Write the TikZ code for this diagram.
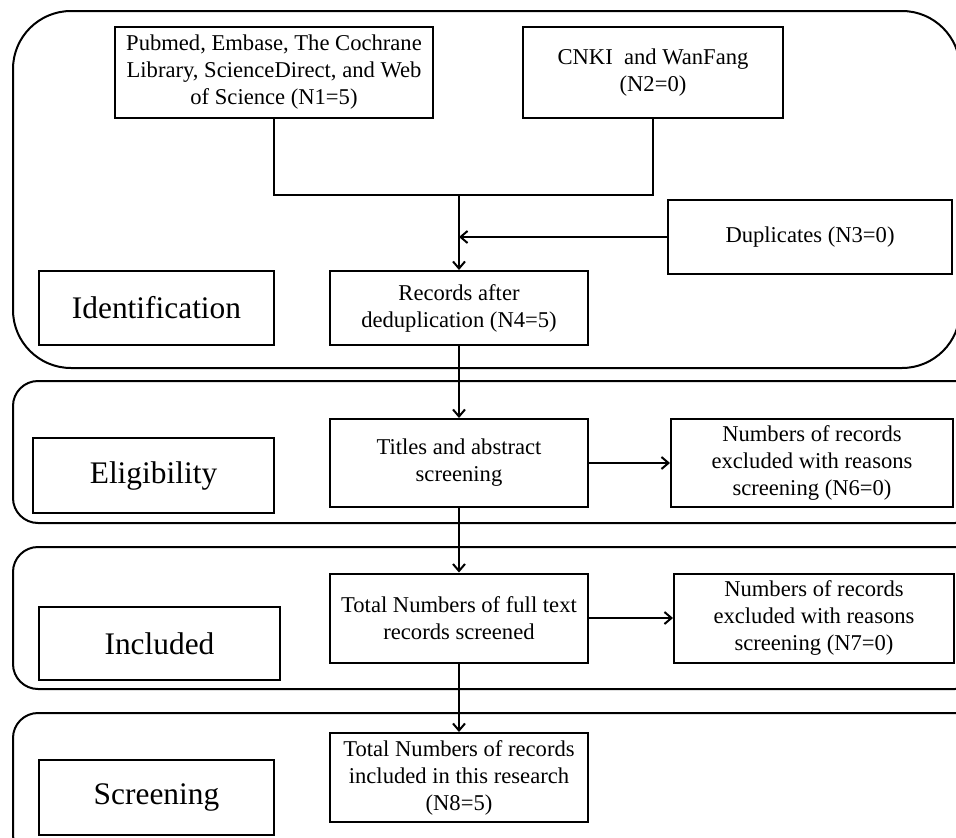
\documentclass[tikz,border=0pt]{standalone}
\usepackage{fontspec}
\setmainfont{Liberation Serif}
\usetikzlibrary{arrows.meta}
\tikzset{
  frame/.style={draw, line width=2pt, rounded corners=#1},
  box/.style={draw, line width=2pt, align=center, inner sep=2pt,
    font=\fontsize{22.6}{27}\selectfont},
  stage/.style={draw, line width=2pt, align=center, inner sep=2pt,
    font=\fontsize{31.4}{36}\selectfont},
  conn/.style={line width=2pt},
  arr/.style={line width=2pt, -{Straight Barb[length=7pt,width=12pt,line width=2pt]}}
}
\begin{document}
\begin{tikzpicture}[x=1pt,y=-1pt]
\useasboundingbox (0,0) rectangle (956,838);
\clip (0,0) rectangle (956,838);
% stage frames
\draw[frame=58] (13,11) rectangle (960,368);
\draw[frame=25] (13,381) rectangle (980,523);
\draw[frame=25] (13,547) rectangle (980,689);
\draw[frame=25] (13,713) rectangle (980,860);
% identification
\node[box, minimum width=318pt, minimum height=91pt] (n1) at (274,72.5)
  {Pubmed, Embase, The Cochrane\\Library, ScienceDirect, and Web\\of Science (N1=5)};
\node[box, minimum width=260pt, minimum height=91pt] (n2) at (653,72.5)
  {CNKI\ \ and WanFang\\(N2=0)};
\node[box, minimum width=284pt, minimum height=74pt] (n3) at (810,237)
  {Duplicates (N3=0)};
\node[stage, minimum width=235pt, minimum height=74pt] (s1) at (156.5,308)
  {Identification};
\node[box, minimum width=258pt, minimum height=74pt] (n4) at (459,308)
  {Records after\\deduplication (N4=5)};
% eligibility
\node[stage, minimum width=241pt, minimum height=75pt] (s2) at (153.5,475.5)
  {Eligibility};
\node[box, minimum width=258pt, minimum height=88pt] (n5) at (459,463)
  {Titles and abstract\\screening};
\node[box, minimum width=282pt, minimum height=88pt] (n6) at (812,463)
  {Numbers of records\\excluded with reasons\\screening (N6=0)};
% included
\node[stage, minimum width=241pt, minimum height=73pt] (s3) at (159.5,643.5)
  {Included};
\node[box, minimum width=258pt, minimum height=89pt] (n7a) at (459,618)
  {Total Numbers of full text\\records screened};
\node[box, minimum width=280pt, minimum height=89pt] (n7) at (814,618)
  {Numbers of records\\excluded with reasons\\screening (N7=0)};
% screening
\node[stage, minimum width=235pt, minimum height=75pt] (s4) at (156.5,797.5)
  {Screening};
\node[box, minimum width=258pt, minimum height=89pt] (n8) at (459,777.5)
  {Total Numbers of records\\included in this research\\(N8=5)};
% connectors
\coordinate (j) at (459,195);
\draw[conn] (n1.south) |- (j) -| (n2.south);
\draw[arr] (j) -- (n4.north);
\draw[arr] (n3.west) -- (n3.west -| j);
\draw[arr] (n4.south) -- (n5.north);
\draw[arr] (n5.east) -- (n6.west);
\draw[arr] (n5.south) -- (n7a.north);
\draw[arr] (n7a.east) -- (n7.west);
\draw[arr] (n7a.south) -- (n8.north);
\end{tikzpicture}
\end{document}
